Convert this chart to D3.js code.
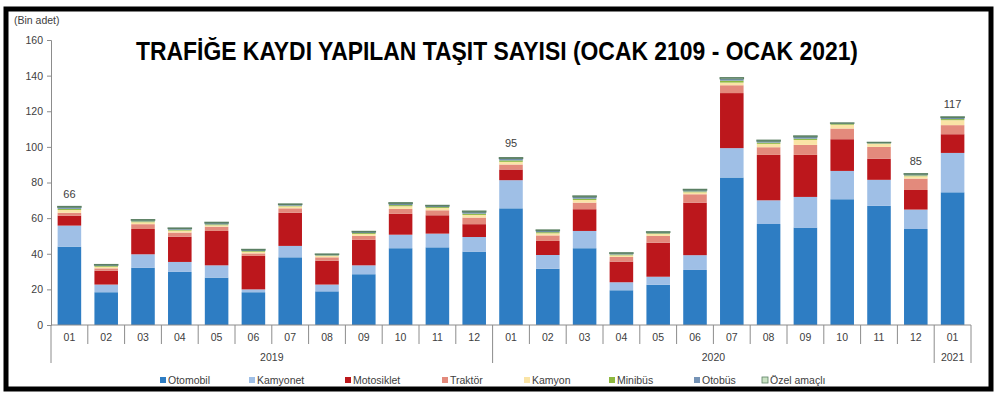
<!DOCTYPE html>
<html>
<head>
<meta charset="utf-8">
<script src="https://cdn.jsdelivr.net/npm/d3@7"></script>
<style>
  body { margin: 0; background: #fff; }
  text { font-family: "Liberation Sans", Arial, sans-serif; }
</style>
</head>
<body>
<div id="chart"></div>
<script>
const months = ['01','02','03','04','05','06','07','08','09','10','11','12',
  '01','02','03','04','05','06','07','08','09','10','11','12','01'];
const years = ['2019', '2020', '2021'];
const yearSpan = [12, 12, 1];

const otomobil   = [44.0,18.4,32.2,29.8,26.6,18.4,38.0,18.9,28.5,43.1,43.6,41.2, 65.5,31.6,43.1,19.5,22.6,30.9,82.8,56.7,54.7,70.6,66.9,53.9, 74.5];
const kamyonet   = [11.8,4.3,7.5,5.6,6.9,1.6,6.4,3.8,5.0,7.6,7.7,8.2, 15.8,7.7,9.7,4.5,4.5,8.3,16.5,13.3,17.2,15.9,14.6,10.9, 22.1];
const motosiklet = [5.6,7.8,14.2,14.2,19.3,18.8,18.6,13.4,14.3,11.7,10.3,7.2, 6.0,7.9,12.2,11.6,19.1,29.5,30.9,25.5,23.6,17.8,11.9,11.0, 10.5];
const traktor    = [1.6,1.3,2.7,2.3,2.4,1.4,2.5,1.9,2.2,2.8,2.8,3.7, 2.8,3.1,3.7,2.6,3.8,4.7,4.4,4.3,5.6,6.0,6.6,6.4, 5.1];
const kamyon     = [1.6,0.9,1.1,1.1,0.8,0.9,1.1,0.8,1.1,1.5,1.3,1.5, 1.5,1.2,1.5,0.9,1.1,1.1,1.5,1.9,2.8,2.1,1.7,1.3, 2.8];
const minibus    = [0.6,0.4,0.5,0.5,0.5,0.4,0.4,0.3,0.5,0.6,0.5,0.7, 0.8,0.6,0.7,0.5,0.4,0.5,1.1,0.7,0.7,0.4,0.3,0.5, 0.6];
const otobus     = [0.9,0.5,0.6,0.6,0.7,0.6,0.6,0.5,0.6,0.8,0.6,0.9, 1.0,0.8,1.0,0.6,0.5,0.7,1.0,0.8,1.0,0.4,0.4,0.6, 0.8];
const ozel       = [0.5,0.4,0.4,0.4,0.5,0.4,0.4,0.3,0.4,0.6,0.4,0.6, 0.6,0.5,0.6,0.4,0.4,0.5,0.7,0.6,0.6,0.3,0.2,0.4, 0.5];

const labelIndex = [0, 12, 23, 24];
const labelText = ['66', '95', '85', '117'];

const seriesNames = ['Otomobil','Kamyonet','Motosiklet','Traktör','Kamyon','Minibüs','Otobüs','Özel amaçlı'];
const seriesValues = [otomobil, kamyonet, motosiklet, traktor, kamyon, minibus, otobus, ozel];
const colors = ['#2e7dc3','#9fbfe6','#bc171c','#e38a7c','#fae4a6','#8db83f','#7593b6','#c9e2c3'];
const legendX = [160, 249, 345, 442, 524, 609, 694, 762];

const table = months.map((m, i) => {
  const row = { idx: i };
  seriesNames.forEach((s, k) => row[s] = seriesValues[k][i]);
  return row;
});

const svg = d3.select('#chart')
  .append('svg')
  .attr('width', 1000)
  .attr('height', 401);

svg.append('rect')
  .attr('x', 6).attr('y', 9)
  .attr('width', 985).attr('height', 380)
  .attr('fill', '#fff')
  .attr('stroke', '#000')
  .attr('stroke-width', 5);

const x = d3.scaleBand()
  .domain(d3.range(months.length))
  .range([51, 971])
  .paddingInner(0.36)
  .paddingOuter(0.18);

const y = d3.scaleLinear()
  .domain([0, 160])
  .range([325, 40]);

const stack = d3.stack().keys(seriesNames)(table);

const layers = svg.append('g')
  .selectAll('g')
  .data(stack)
  .enter()
  .append('g')
  .attr('fill', (d, i) => colors[i]);

layers.selectAll('rect')
  .data(d => d)
  .enter()
  .append('rect')
  .attr('x', d => x(d.data.idx))
  .attr('width', x.bandwidth())
  .attr('y', d => y(d[1]))
  .attr('height', d => y(d[0]) - y(d[1]));

// top stripe outline for Özel amaçlı
layers.filter((d, i) => i === seriesNames.length - 1)
  .selectAll('rect')
  .attr('stroke', '#5b7f63')
  .attr('stroke-width', 1);

// y axis
const yAxis = svg.append('g')
  .attr('transform', 'translate(51,0)')
  .call(d3.axisLeft(y).tickValues(d3.range(0, 161, 20)).tickSize(4).tickPadding(4));
yAxis.select('.domain').attr('stroke', '#8c8c8c');
yAxis.selectAll('.tick line').attr('stroke', '#8c8c8c');
yAxis.selectAll('text').attr('fill', '#404040').style('font-size', '10.5px');

svg.append('text')
  .attr('x', 14).attr('y', 24)
  .attr('fill', '#404040')
  .style('font-size', '10.5px')
  .text('(Bin adet)');

// x axis with two levels
const half = (x.step() - x.bandwidth()) / 2;
const edge = i => i < months.length ? x(i) - half : x(months.length - 1) + x.bandwidth() + half;

svg.append('line')
  .attr('x1', 51).attr('x2', 971)
  .attr('y1', 325).attr('y2', 325)
  .attr('stroke', '#8c8c8c');

const yearEdges = [0, 12, 24, 25];
svg.append('g')
  .selectAll('line')
  .data(d3.range(months.length + 1))
  .enter()
  .append('line')
  .attr('x1', d => edge(d)).attr('x2', d => edge(d))
  .attr('y1', 325)
  .attr('y2', d => yearEdges.includes(d) ? 363 : 344)
  .attr('stroke', '#8c8c8c');

svg.append('g')
  .selectAll('text')
  .data(months)
  .enter()
  .append('text')
  .attr('x', (d, i) => x(i) + x.bandwidth() / 2)
  .attr('y', 341)
  .attr('text-anchor', 'middle')
  .attr('fill', '#404040')
  .style('font-size', '10.5px')
  .text(d => d);

let start = 0;
years.forEach((yr, k) => {
  const a = edge(start), b = edge(start + yearSpan[k]);
  svg.append('text')
    .attr('x', (a + b) / 2)
    .attr('y', 361)
    .attr('text-anchor', 'middle')
    .attr('fill', '#404040')
    .style('font-size', '10.5px')
    .text(yr);
  start += yearSpan[k];
});

// total labels
svg.append('g')
  .selectAll('text')
  .data(labelIndex)
  .enter()
  .append('text')
  .attr('x', d => x(d) + x.bandwidth() / 2)
  .attr('y', (d, i) => y(+labelText[i]) - 9)
  .attr('text-anchor', 'middle')
  .attr('fill', '#404040')
  .style('font-size', '11px')
  .text((d, i) => labelText[i]);

// title
svg.append('text')
  .attr('x', 497)
  .attr('y', 60)
  .attr('text-anchor', 'middle')
  .attr('textLength', 722)
  .attr('lengthAdjust', 'spacingAndGlyphs')
  .style('font-family', '"Liberation Sans Narrow", "Liberation Sans", Arial, sans-serif')
  .style('font-weight', 'bold')
  .style('font-size', '26px')
  .attr('fill', '#000')
  .text('TRAFİĞE KAYDI YAPILAN TAŞIT SAYISI (OCAK 2109 - OCAK 2021)');

// legend
const legend = svg.append('g')
  .selectAll('g')
  .data(seriesNames)
  .enter()
  .append('g')
  .attr('transform', (d, i) => 'translate(' + legendX[i] + ',380)');
legend.append('rect')
  .attr('x', 0).attr('y', -3)
  .attr('width', 6).attr('height', 6)
  .attr('fill', (d, i) => colors[i])
  .attr('stroke', (d, i) => i === 7 ? '#5b7f63' : 'none')
  .attr('stroke-width', 0.8);
legend.append('text')
  .attr('x', 8).attr('y', 4)
  .attr('fill', '#404040')
  .style('font-size', '10.5px')
  .text(d => d);
</script>
</body>
</html>
